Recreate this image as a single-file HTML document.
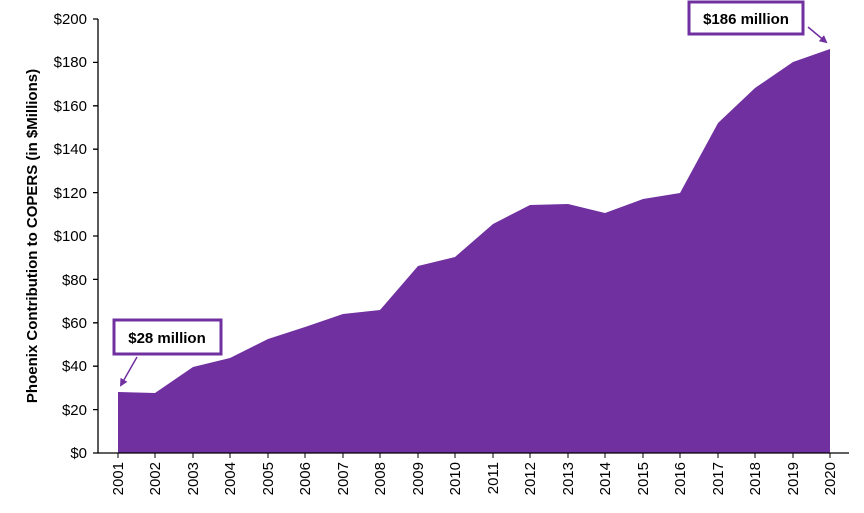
<!DOCTYPE html><html><head><style>body{margin:0;background:#fff}svg{display:block}text{font-family:"Liberation Sans",Carlito,sans-serif}</style></head><body>
<svg width="864" height="513" viewBox="0 0 864 513">
<defs><marker id="a" markerWidth="8" markerHeight="8" refX="6" refY="4" orient="auto" markerUnits="userSpaceOnUse"><path d="M0,0L8,4L0,8z" fill="#7030a0"/></marker></defs>
<polygon fill="#7030a0" points="118,453 118,392 155,393 193,367 230,358 268,339 305,327 343,314 380,310 418,266 455,257 493,224 530,205 568,204 605,213 643,199 680,193 718,123 755,88 793,62 830,49 830,453"/>
<g stroke="#000" stroke-width="1.3" fill="none">
<path d="M98,19V453H849"/>
<path d="M93,19H98M93,62.4H98M93,105.8H98M93,149.2H98M93,192.6H98M93,236H98M93,279.4H98M93,322.8H98M93,366.2H98M93,409.6H98M93,453H98"/>
</g>
<g stroke="#000" stroke-width="1" id="xt"></g>
<g font-size="15" text-anchor="end" fill="#000">
<text x="87" y="24">$200</text><text x="87" y="67">$180</text><text x="87" y="111">$160</text><text x="87" y="154">$140</text><text x="87" y="198">$120</text><text x="87" y="241">$100</text><text x="87" y="285">$80</text><text x="87" y="328">$60</text><text x="87" y="371">$40</text><text x="87" y="415">$20</text><text x="87" y="458">$0</text>
</g>
<text transform="translate(37,236) rotate(-90)" font-size="15" font-weight="bold" text-anchor="middle">Phoenix Contribution to COPERS (in $Millions)</text>
<g font-size="15" text-anchor="end">
<script>
</script>
</g>
<g font-size="15" id="yrs"></g>
<rect x="114" y="320" width="107" height="34" fill="#fff" stroke="#7030a0" stroke-width="3"/>
<text x="167" y="343" font-size="15" font-weight="bold" text-anchor="middle">$28 million</text>
<line x1="137" y1="357" x2="121" y2="385" stroke="#7030a0" stroke-width="1.5" marker-end="url(#a)"/>
<rect x="689" y="2" width="114" height="32" fill="#fff" stroke="#7030a0" stroke-width="3"/>
<text x="746" y="24" font-size="15" font-weight="bold" text-anchor="middle">$186 million</text>
<line x1="808" y1="27" x2="826" y2="42" stroke="#7030a0" stroke-width="1.5" marker-end="url(#a)"/>
<g font-size="15" text-anchor="end">
<text transform="translate(123,462) rotate(-90)">2001</text>
<text transform="translate(160,462) rotate(-90)">2002</text>
<text transform="translate(198,462) rotate(-90)">2003</text>
<text transform="translate(235,462) rotate(-90)">2004</text>
<text transform="translate(273,462) rotate(-90)">2005</text>
<text transform="translate(310,462) rotate(-90)">2006</text>
<text transform="translate(348,462) rotate(-90)">2007</text>
<text transform="translate(385,462) rotate(-90)">2008</text>
<text transform="translate(423,462) rotate(-90)">2009</text>
<text transform="translate(460,462) rotate(-90)">2010</text>
<text transform="translate(498,462) rotate(-90)">2011</text>
<text transform="translate(535,462) rotate(-90)">2012</text>
<text transform="translate(573,462) rotate(-90)">2013</text>
<text transform="translate(610,462) rotate(-90)">2014</text>
<text transform="translate(648,462) rotate(-90)">2015</text>
<text transform="translate(685,462) rotate(-90)">2016</text>
<text transform="translate(723,462) rotate(-90)">2017</text>
<text transform="translate(760,462) rotate(-90)">2018</text>
<text transform="translate(798,462) rotate(-90)">2019</text>
<text transform="translate(835,462) rotate(-90)">2020</text>
</g>
<path stroke="#000" stroke-width="1" d="M118,453V458M155,453V458M193,453V458M230,453V458M268,453V458M305,453V458M343,453V458M380,453V458M418,453V458M455,453V458M493,453V458M530,453V458M568,453V458M605,453V458M643,453V458M680,453V458M718,453V458M755,453V458M793,453V458M830,453V458"/>
</svg>
</body></html>
